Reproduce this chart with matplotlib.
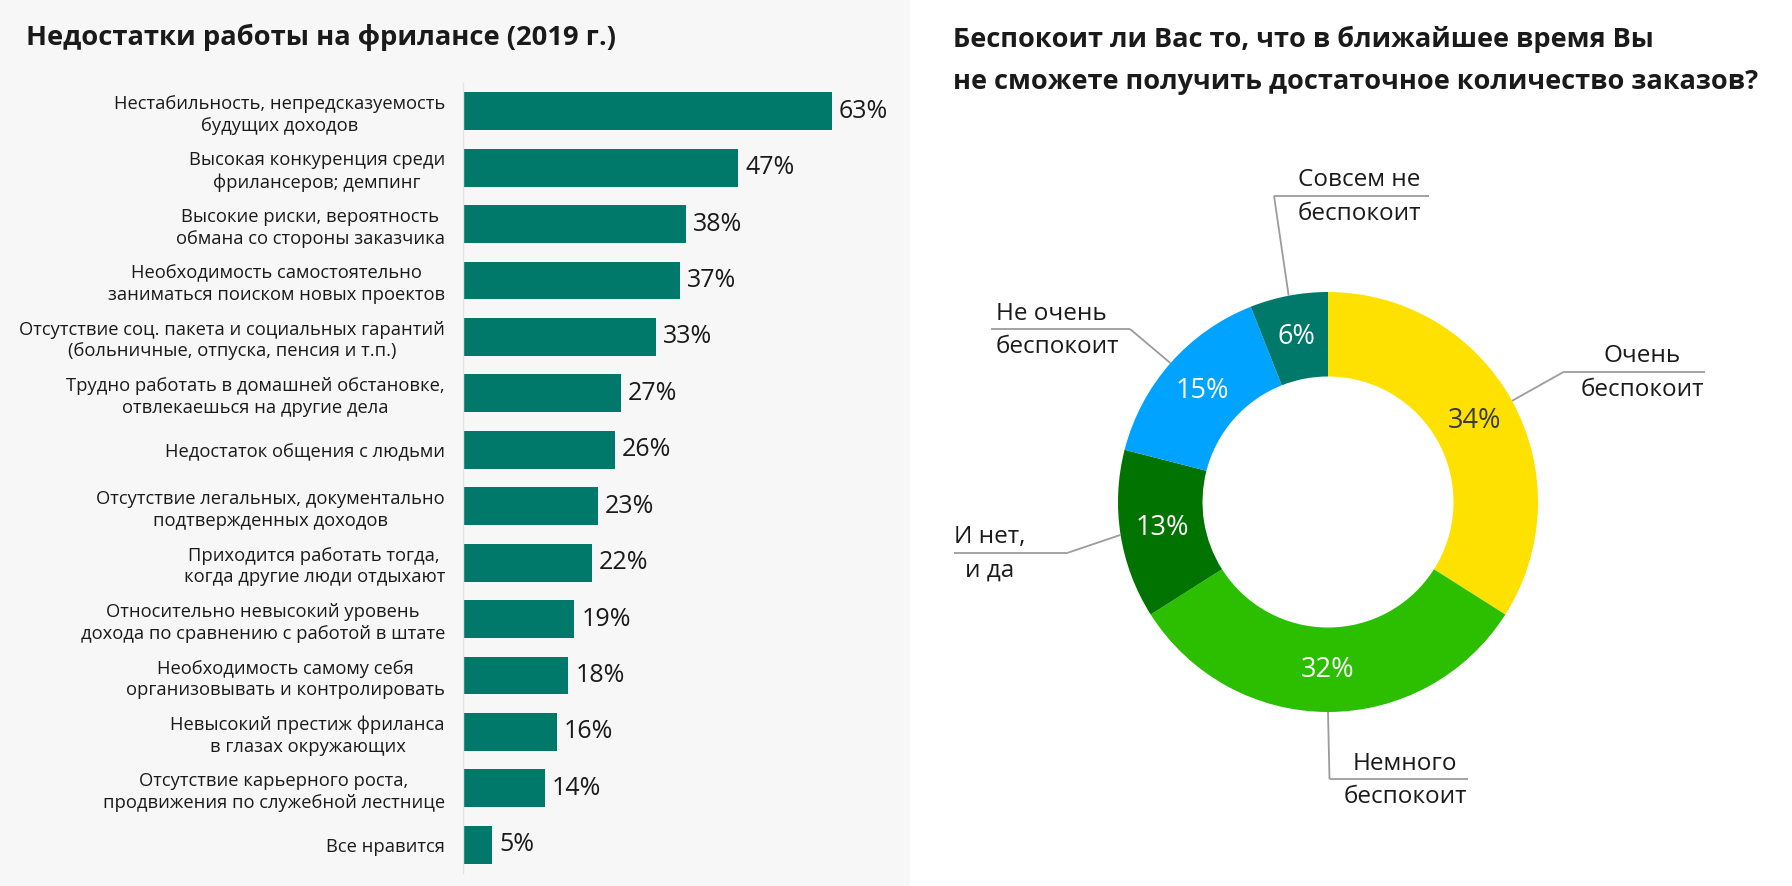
import matplotlib
matplotlib.use('Agg')
import matplotlib.pyplot as plt
import numpy as np
from matplotlib.patches import Rectangle

plt.rcParams['font.family'] = ['Open Sans', 'DejaVu Sans']

# ---------------- data ----------------
left_title = "Недостатки работы на фрилансе (2019 г.)"
bar_categories = [
    "Нестабильность, непредсказуемость\nбудущих доходов",
    "Высокая конкуренция среди\nфрилансеров; демпинг",
    "Высокие риски, вероятность\nобмана со стороны заказчика",
    "Необходимость самостоятельно\nзаниматься поиском новых проектов",
    "Отсутствие соц. пакета и социальных гарантий\n(больничные, отпуска, пенсия и т.п.)",
    "Трудно работать в домашней обстановке,\nотвлекаешься на другие дела",
    "Недостаток общения с людьми",
    "Отсутствие легальных, документально\nподтвержденных доходов",
    "Приходится работать тогда,\nкогда другие люди отдыхают",
    "Относительно невысокий уровень\nдохода по сравнению с работой в штате",
    "Необходимость самому себя\nорганизовывать и контролировать",
    "Невысокий престиж фриланса\nв глазах окружающих",
    "Отсутствие карьерного роста,\nпродвижения по служебной лестнице",
    "Все нравится",
]
bar_values = [63, 47, 38, 37, 33, 27, 26, 23, 22, 19, 18, 16, 14, 5]

right_title_1 = "Беспокоит ли Вас то, что в ближайшее время Вы"
right_title_2 = "не сможете получить достаточное количество заказов?"
donut_line1 = ["Очень", "Немного", "И нет,", "Не очень", "Совсем не"]
donut_line2 = ["беспокоит", "беспокоит", "и да", "беспокоит", "беспокоит"]
donut_values = [34, 32, 13, 15, 6]
donut_colors = ['#FFE100', '#2BBF00', '#007300', '#00A3FF', '#00796B']
donut_pct_colors = ['#3a3a3a', 'white', 'white', 'white', 'white']

# ---------------- layout ----------------
W, H = 1792, 886
BAR_COLOR = '#00796B'
TXT = '#1a1a1a'
LINE = '#9c9c9c'

fig = plt.figure(figsize=(W / 100, H / 100), dpi=100)
fig.patch.set_facecolor('white')
fig.add_artist(Rectangle((0, 0), 910 / W, 1, transform=fig.transFigure,
                         facecolor='#F7F7F7', edgecolor='none', zorder=0))

# ---- bar chart ----
ax = fig.add_axes([463 / W, 1 - 873 / H, 410 / W, 790 / H])
ax.set_facecolor('none')
y = np.arange(len(bar_values))
ax.barh(y, bar_values, height=0.67, color=BAR_COLOR)
ax.set_xlim(0, 70)
ax.set_ylim(len(bar_values) - 0.5, -0.5)
for s in ['top', 'right', 'bottom']:
    ax.spines[s].set_visible(False)
ax.spines['left'].set_color('#E3E3E3')
ax.spines['left'].set_linewidth(1.0)
ax.set_xticks([])
ax.set_yticks(y)
ax.set_yticklabels(bar_categories, fontsize=13.2, color=TXT,
                   multialignment='center', linespacing=1.25)
ax.tick_params(axis='y', length=0, pad=13)
for yi, v in zip(y, bar_values):
    ax.annotate(f"{v}%", (v, yi), xytext=(5, 0), textcoords='offset points',
                va='center', ha='left', fontsize=18, color=TXT)

fig.text(26 / W, 1 - 45 / H, left_title, fontsize=19.7, fontweight='bold',
         color=TXT, va='baseline', ha='left')

# ---- donut ----
ax2 = fig.add_axes([910 / W, 0, (W - 910) / W, 1])
cx, cy, R, RIN = 1328, H - 502, 210, 125.5
ax2.pie(donut_values, colors=donut_colors, startangle=90, counterclock=False,
        radius=R, center=(cx, cy),
        wedgeprops=dict(width=R - RIN, edgecolor='none'))
ax2.set_xlim(910, W)
ax2.set_ylim(0, H)
ax2.axis('off')

vals = np.array(donut_values, dtype=float)
cum = np.cumsum(vals)
mid_frac = (cum - vals / 2) / vals.sum()
mid_ang = np.deg2rad(90 - 360 * mid_frac)
rmid = (R + RIN) / 2
for a, v, c in zip(mid_ang, donut_values, donut_pct_colors):
    ax2.text(cx + rmid * np.cos(a), cy + rmid * np.sin(a), f"{v}%",
             ha='center', va='center', fontsize=19.5, color=c)

# label layout (px from top): rule x0, x1, y ; attach side ; text x ; align
label_layout = [
    (1564, 1705, 371.7, 'left', 1642, 'center'),
    (1329.5, 1468, 779.3, 'left', 1405, 'center'),
    (954, 1068, 552.7, 'right', 990, 'center'),
    (991, 1130, 329, 'right', 996, 'left'),
    (1274, 1429, 195.7, 'left', 1298, 'left'),
]
for a, l1, l2, (x0, x1, ry, side, tx, ha) in zip(mid_ang, donut_line1, donut_line2, label_layout):
    ey = H - ry
    ax_ = x0 if side == 'left' else x1
    px, py = cx + R * np.cos(a), cy + R * np.sin(a)
    ax2.plot([px, ax_], [py, ey], color=LINE, lw=1.3, solid_capstyle='butt')
    ax2.plot([x0, x1], [ey, ey], color=LINE, lw=1.3, solid_capstyle='butt')
    ax2.text(tx, ey + 9.5, l1, ha=ha, va='baseline', fontsize=17.5, color=TXT)
    ax2.text(tx, ey - 24, l2, ha=ha, va='baseline', fontsize=17.5, color=TXT)

fig.text(953 / W, 1 - 47 / H, right_title_1, fontsize=19.5, fontweight='bold',
         color=TXT, va='baseline', ha='left')
fig.text(953 / W, 1 - 89 / H, right_title_2, fontsize=19.5, fontweight='bold',
         color=TXT, va='baseline', ha='left')

fig.savefig('out.png', dpi=100, facecolor=fig.get_facecolor())
